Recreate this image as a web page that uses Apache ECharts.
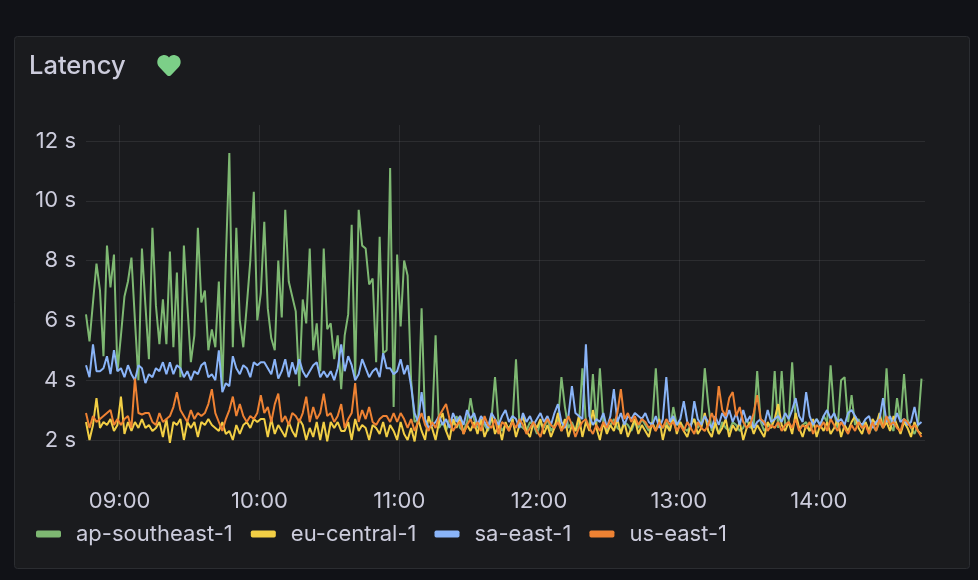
<!DOCTYPE html>
<html>
<head>
<meta charset="utf-8">
<style>html,body{margin:0;padding:0;background:#111217}#c{width:978px;height:580px}</style>
<script src="https://cdn.jsdelivr.net/npm/echarts@6/dist/echarts.min.js"></script>
</head>
<body>
<div id="c"></div>
<script>
const seriesNames = ['ap-southeast-1', 'eu-central-1', 'sa-east-1', 'us-east-1'];
const yTicks = [2, 4, 6, 8, 10, 12];
const xTickHours = [9, 10, 11, 12, 13, 14];
const stepMinutes = 1.5;

const apSoutheast = [
6.2,5.3,6.6,7.9,7.0,4.8,8.5,7.1,8.2,4.3,
5.5,6.8,7.3,8.1,6.0,4.0,8.4,6.5,4.7,9.1,
6.5,5.2,6.7,5.2,8.3,5.1,7.6,4.1,8.5,6.5,
4.6,5.5,9.1,6.6,7.0,5.0,5.7,5.1,7.3,3.7,
8.0,11.6,5.1,9.1,6.0,5.1,6.5,8.0,10.3,6.0,
6.9,9.3,6.4,5.4,5.0,8.0,6.1,9.7,7.3,6.8,
6.3,3.8,6.7,5.9,8.4,5.0,5.9,4.3,8.4,5.7,
5.9,4.7,5.5,3.7,5.5,6.2,9.2,4.1,9.7,8.5,
8.4,7.2,7.4,4.6,8.8,4.9,5.0,11.1,3.1,8.2,
5.8,8.0,7.5,4.0,2.6,2.7,6.4,2.6,2.4,2.5,
5.5,2.4,2.6,2.3,2.7,2.5,2.8,2.4,2.3,2.6,
3.4,2.7,2.4,2.6,2.5,2.3,2.7,4.1,2.6,2.3,
2.5,2.4,2.6,4.7,2.5,2.4,2.3,2.6,2.5,2.2,
2.6,2.4,2.7,2.3,2.5,2.6,4.1,3.1,2.4,2.6,
2.3,2.5,4.4,2.6,2.4,4.2,2.5,4.4,2.6,2.3,
2.5,2.7,2.4,2.3,2.6,2.5,2.3,2.6,2.4,2.7,
2.5,2.3,2.6,4.4,2.5,2.4,2.6,2.3,3.1,2.5,
2.6,2.4,2.3,2.5,2.7,2.4,2.6,4.4,3.2,2.3,
2.5,2.2,2.6,2.4,2.3,2.6,2.5,2.3,2.4,2.7,
2.4,2.5,4.3,2.6,2.3,2.5,2.4,4.3,2.4,4.3,
2.5,2.6,4.6,2.7,2.4,2.5,2.6,2.3,2.5,2.7,
2.5,2.8,2.6,4.5,2.9,2.4,4.0,4.1,2.6,3.5,
2.5,2.7,2.4,2.6,2.2,2.5,2.3,2.6,2.4,4.4,
2.5,2.3,3.4,2.6,4.2,2.7,2.4,2.2,2.5,4.05];

const euCentral = [
2.6,2.0,2.5,3.4,2.4,2.6,2.5,2.7,2.3,2.5,
3.45,2.2,2.6,2.3,2.6,2.4,2.7,2.4,2.5,2.3,
2.4,2.6,2.1,2.7,1.9,2.6,2.5,2.7,2.0,2.6,
2.4,2.6,2.1,2.6,2.5,2.7,2.5,2.4,2.3,2.6,
2.2,2.3,2.0,2.5,2.2,2.5,2.6,2.4,2.7,2.6,
2.7,2.7,2.1,2.7,2.2,2.5,2.3,2.1,2.6,2.3,
2.1,2.7,2.5,2.0,2.4,2.1,2.6,2.0,2.6,1.95,
2.6,2.4,2.6,2.3,2.3,2.6,2.0,2.7,2.3,2.5,
2.4,2.0,2.5,2.4,2.2,2.6,2.1,2.5,2.3,2.0,
2.6,2.2,2.0,2.4,1.95,2.7,2.3,2.0,2.8,2.4,
2.0,2.6,2.9,2.3,2.0,2.7,2.4,2.8,2.2,2.5,
2.3,2.6,2.2,2.7,2.1,2.4,2.8,2.2,2.5,2.0,
2.6,2.3,2.7,2.1,2.5,2.8,2.3,2.1,2.6,2.4,
2.7,2.2,2.5,2.1,2.4,2.9,2.3,2.7,2.1,2.5,
2.3,2.8,2.1,2.6,2.3,3.0,2.4,2.0,2.6,2.2,
2.5,2.3,2.7,2.2,2.6,2.1,2.4,2.7,2.2,2.5,
2.3,2.1,2.6,2.3,2.7,2.0,2.5,2.3,2.8,2.2,
2.6,2.3,2.1,2.5,2.7,2.2,2.4,2.9,2.3,2.1,
2.6,2.2,2.4,2.7,2.1,2.5,2.3,2.6,2.0,2.4,
2.6,2.2,2.5,2.3,2.1,2.6,2.4,2.7,3.2,2.5,
2.3,2.6,2.2,2.9,2.4,2.1,2.5,2.3,2.7,2.1,
2.5,2.3,2.6,2.2,2.4,2.7,2.1,2.5,2.3,2.6,
2.8,2.4,2.2,2.6,2.3,2.7,2.5,2.9,2.4,2.6,
2.3,2.8,2.5,2.2,2.6,2.4,2.1,2.6,2.3,2.2];

const saEast = [
4.5,4.1,5.2,4.3,4.3,4.4,4.8,4.2,5.0,4.3,
4.4,4.1,4.5,4.2,4.0,4.5,4.4,3.9,4.2,4.1,
4.4,4.3,4.6,4.2,4.6,4.2,4.5,4.4,4.1,4.3,
4.0,4.3,4.2,4.5,4.6,4.1,4.2,4.0,5.0,3.6,
3.9,3.8,4.8,4.4,4.2,4.5,4.4,4.1,4.6,4.5,
4.6,4.6,4.4,4.2,4.7,4.05,4.3,4.7,4.1,4.6,
4.2,4.7,4.3,4.1,4.3,4.5,4.6,4.1,4.3,4.1,
4.3,4.0,4.4,5.2,4.3,4.8,4.5,4.0,4.2,4.7,
4.4,4.1,4.3,4.4,4.1,4.9,4.4,4.4,4.2,4.3,
4.7,4.2,4.5,3.8,2.9,2.6,3.6,2.7,2.4,2.5,
2.6,2.8,2.5,2.7,2.4,2.9,2.6,2.8,2.5,3.0,
2.7,2.9,2.5,2.8,2.6,2.4,2.9,2.7,2.5,2.8,
3.0,2.6,2.8,2.7,2.4,2.9,2.6,2.8,2.5,2.7,
2.9,2.6,2.8,2.5,2.9,3.2,2.6,2.4,2.8,3.8,
2.9,2.8,2.7,5.2,2.8,2.5,2.7,2.6,2.9,2.4,
2.8,3.7,2.6,2.9,2.5,2.8,2.7,2.9,2.8,2.7,
2.9,2.6,2.5,2.8,2.4,2.7,4.1,2.6,2.8,2.5,
2.7,3.3,2.6,2.4,3.3,2.7,2.5,2.8,2.6,2.4,
2.8,2.5,2.9,2.7,3.0,2.6,2.9,2.5,3.0,2.6,
2.8,2.4,2.6,2.7,2.5,3.0,2.6,2.7,2.8,2.6,
2.9,2.7,3.0,3.4,2.8,2.6,3.6,2.8,2.5,2.7,
2.5,2.8,3.0,2.7,2.9,2.6,2.7,2.5,2.9,3.0,
2.8,2.6,2.5,2.7,2.8,2.4,2.6,2.7,3.4,2.6,
2.8,2.5,2.9,2.6,2.7,2.5,2.6,3.1,2.5,2.6];

const usEast = [
2.9,2.4,2.8,2.6,2.7,2.8,2.9,3.0,2.5,2.7,
2.5,2.7,2.8,2.4,4.05,2.9,2.85,2.9,2.9,2.6,
2.5,2.9,2.6,2.7,2.8,3.1,3.6,3.0,2.8,2.6,
3.0,2.7,2.9,2.8,2.9,3.2,3.7,2.9,2.6,2.3,
2.7,3.0,3.45,2.8,3.2,2.8,2.6,2.8,2.7,2.9,
3.5,2.9,3.1,2.6,3.2,3.55,2.6,2.8,2.5,2.9,
2.8,2.6,2.9,3.45,2.6,3.1,2.7,2.9,3.55,2.8,
2.9,2.6,2.8,3.2,2.4,2.7,2.9,3.9,2.6,3.0,
2.7,3.1,2.6,2.5,2.7,2.8,2.8,2.6,2.9,2.6,
2.9,2.7,2.4,2.7,2.3,2.6,2.9,2.5,2.3,2.6,
2.4,2.8,3.0,3.2,2.7,2.3,2.5,2.6,2.2,2.5,
2.7,2.4,2.6,2.3,2.8,2.5,2.4,2.7,2.2,2.6,
2.5,2.3,2.6,2.4,2.7,2.5,2.2,2.4,2.6,2.3,
2.1,2.5,2.7,2.5,2.4,2.6,2.3,2.5,2.8,2.5,
2.1,2.4,2.6,2.7,2.4,2.2,2.5,2.3,2.6,2.4,
2.7,2.5,2.9,3.7,2.7,2.9,2.6,2.8,2.5,2.7,
2.6,2.4,2.5,2.3,2.6,2.4,2.7,2.5,2.6,2.3,
2.5,2.3,2.6,2.4,2.2,2.6,2.4,2.3,2.5,2.9,
2.6,3.8,3.0,2.8,3.4,3.6,2.8,3.1,2.6,2.4,
2.5,2.9,3.5,2.7,2.6,2.3,2.5,2.4,2.6,2.3,
2.5,2.6,2.4,2.7,2.3,2.5,2.4,2.6,2.2,2.5,
2.4,2.6,2.3,2.7,2.5,2.3,2.6,2.4,2.2,2.5,
2.3,2.6,2.4,2.5,2.2,2.6,2.3,2.7,2.4,2.8,
2.5,2.6,2.4,2.3,2.7,2.6,2.4,2.5,2.3,2.1];

const seriesValues = [apSoutheast, euCentral, saEast, usEast];
const seriesColors = ['#7eb872', '#f2cf45', '#8ab4f8', '#ee8233'];

const FONT = 'Inter';
const at = (h, m, s) => new Date(2024, 0, 15, h, m, s || 0).getTime();
const t0 = at(8, 45, 35);
const times = apSoutheast.map((_, i) => t0 + i * stepMinutes * 60000);
const xTicks = xTickHours.map(h => at(h, 0));
const pad = n => String(n).padStart(2, '0');

echarts.graphic.registerShape('heart', echarts.graphic.extendPath(
  'M12 22 C11 22 10.4 21.5 9.8 20.9 L2.2 13 C-1.2 9.4 -0.2 2 6.5 1 C9 0.7 11 2 12 3.4 C13 2 15 0.7 17.5 1 C24.2 2 25.2 9.4 21.8 13 L14.2 20.9 C13.6 21.5 13 22 12 22 Z', {}));

const chart = echarts.init(document.getElementById('c'), null, {renderer: 'canvas'});
chart.setOption({
  animation: false,
  backgroundColor: '#111217',
  textStyle: {fontFamily: FONT},
  title: {
    text: 'Latency', left: 29, top: 51, padding: 0,
    textStyle: {color: '#ccccdc', fontFamily: FONT, fontSize: 25.5, fontWeight: 500, lineHeight: 30}
  },
  graphic: [
    {type: 'rect', z: -10, silent: true,
     shape: {x: 14.5, y: 36.5, width: 955, height: 532, r: 3},
     style: {fill: '#1a1b1e', stroke: '#2b2d31', lineWidth: 1}},
    {type: 'heart', z: 5, silent: true, x: 157, y: 54,
     style: {fill: '#7ccf88'}}
  ],
  legend: {
    left: 36, top: 523, padding: 0,
    itemWidth: 25, itemHeight: 7, itemGap: 18,
    icon: 'roundRect',
    data: seriesNames,
    textStyle: {color: '#ccccdc', fontFamily: FONT, fontSize: 22, padding: [0, 0, 0, 10]}
  },
  grid: {left: 86, right: 53, top: 125, bottom: 100, containLabel: false},
  xAxis: {
    type: 'value', min: t0, max: at(14, 45, 35),
    axisLine: {show: false},
    axisTick: {show: false, customValues: xTicks},
    axisLabel: {
      customValues: xTicks, margin: 10, color: '#ccccdc',
      fontFamily: FONT, fontSize: 22,
      formatter: v => { const d = new Date(v); return pad(d.getHours()) + ':' + pad(d.getMinutes()); }
    },
    splitLine: {show: true, lineStyle: {color: 'rgba(204,204,220,0.10)', width: 1}}
  },
  yAxis: {
    type: 'value', min: 0.66, max: 12.535,
    axisLine: {show: false},
    axisTick: {show: false, customValues: yTicks},
    axisLabel: {
      customValues: yTicks, margin: 10, color: '#ccccdc',
      fontFamily: FONT, fontSize: 22,
      formatter: v => v + ' s'
    },
    splitLine: {show: true, lineStyle: {color: 'rgba(204,204,220,0.10)', width: 1}}
  },
  series: seriesNames.map((name, k) => ({
    name, type: 'line', showSymbol: false, symbol: 'none',
    color: seriesColors[k],
    lineStyle: {width: 2, color: seriesColors[k]},
    itemStyle: {color: seriesColors[k]},
    data: times.map((t, i) => [t, seriesValues[k][i]])
  }))
});
</script>
</body>
</html>
